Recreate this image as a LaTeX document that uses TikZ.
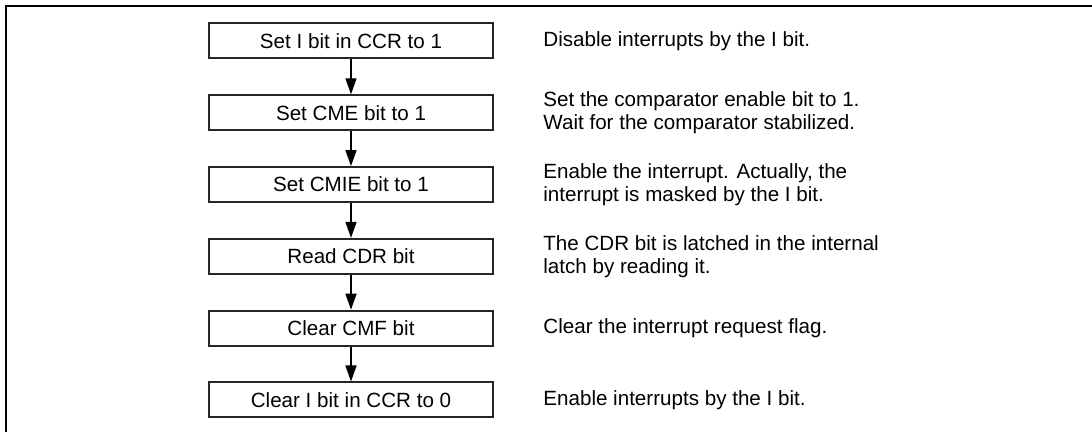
\documentclass[tikz,border=0pt]{standalone}
\usepackage{fontspec}
\setmainfont{Liberation Sans}
\usetikzlibrary{arrows.meta, positioning}

\begin{document}
\begin{tikzpicture}[
x=0.5pt, y=-0.5pt,
every node/.style={font=\fontsize{10.3}{11.5}\selectfont},
stepbox/.style={draw=black!85, line width=1pt, minimum width=142pt, minimum height=17.5pt, inner sep=0pt},
note/.style={align=left, inner sep=0pt},
flow/.style={-{Triangle[length=8pt, width=5.5pt]}, line width=0.7pt}
]

\useasboundingbox (0,0) rectangle (1092,432);

% frame, top and left only
\draw[line width=1pt] (5.7,432) -- (5.7,5.7) -- (1092,5.7);

% steps
\node[stepbox] (s1) at (351, 41) {Set I bit in CCR to 1};
\node[stepbox] (s2) at (351, 112.8) {Set CME bit to 1};
\node[stepbox] (s3) at (351, 184.6) {Set CMIE bit to 1};
\node[stepbox] (s4) at (351, 256.4) {Read CDR bit};
\node[stepbox] (s5) at (351, 328.2) {Clear CMF bit};
\node[stepbox] (s6) at (351, 400) {Clear I bit in CCR to 0};

\foreach \a/\b in {s1/s2, s2/s3, s3/s4, s4/s5, s5/s6} {
\draw[flow] (\a) -- (\b);
}

% notes
\node[note, right=24.5pt of s1] (d1) {Disable interrupts by the I bit.};
\node[note, right=24.5pt of s2] (d2) {Set the comparator enable bit to 1.\\Wait for the comparator stabilized.};
\node[note, right=24.5pt of s3] (d3) {Enable the interrupt. Actually, the\\interrupt is masked by the I bit.};
\node[note, right=24.5pt of s4] (d4) {The CDR bit is latched in the internal\\latch by reading it.};
\node[note, right=24.5pt of s5] (d5) {Clear the interrupt request flag.};
\node[note, right=24.5pt of s6] (d6) {Enable interrupts by the I bit.};

\end{tikzpicture}
\end{document}
